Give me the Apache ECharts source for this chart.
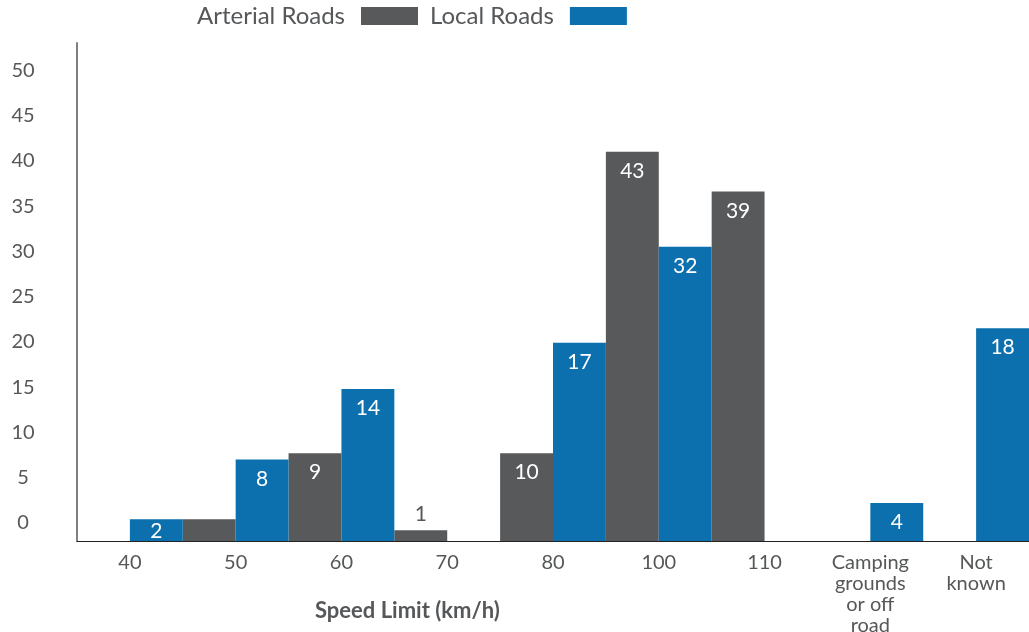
<!DOCTYPE html>
<html>
<head>
    <meta charset="utf-8" />
    <title>Speed Limit</title>
    <script src="https://cdn.jsdelivr.net/npm/echarts@6/dist/echarts.min.js"></script>
    <style>
        html, body { margin: 0; padding: 0; background: #fff; }
        #chart { width: 1029px; height: 632px; }
    </style>
</head>
<body>
    <div id="chart"></div>
    <script type="text/javascript">
        // categories on the x axis
        var speedLimits = ['40', '50', '60', '70', '80', '100', '110', 'Camping\ngrounds\nor off\nroad', 'Not\nknown'];
        // bar heights as drawn in the picture
        var arterialHeights = [0, 2.4, 9.7, 1.2, 9.7, 43, 38.6, 0, 0];
        var localHeights = [2.4, 9, 16.8, 0, 21.9, 32.5, 0, 4.2, 23.5];
        // numbers printed on the bars
        var arterialLabels = [null, null, '9', '1', '10', '43', '39', null, null];
        var localLabels = ['2', '8', '14', null, '17', '32', null, '4', '18'];
        var yTicks = [0, 5, 10, 15, 20, 25, 30, 35, 40, 45, 50];

        var textGrey = '#555759';
        var fontName = 'Lato';

        function buildData(heights, labels) {
            return heights.map(function (h, i) {
                var item = { value: h, labelText: labels[i] };
                if (h > 0 && h < 2) {
                    // too thin for an inside label
                    item.label = { position: 'top', distance: 5, color: textGrey };
                } else if (h < 3) {
                    item.label = { distance: 1 };
                }
                return item;
            });
        }

        var chart = echarts.init(document.getElementById('chart'));
        chart.setOption({
            animation: false,
            textStyle: { fontFamily: fontName },
            title: {
                text: 'Speed Limit (km/h)',
                left: 315,
                top: 600,
                padding: 0,
                textStyle: { fontFamily: fontName, fontSize: 22, fontWeight: 'bold', color: textGrey }
            },
            legend: {
                left: 197,
                top: 4,
                padding: 0,
                align: 'right',
                itemWidth: 57,
                itemHeight: 18,
                itemGap: 12,
                icon: 'rect',
                textStyle: { fontFamily: fontName, fontSize: 24, color: textGrey, padding: [0, 11, 0, 0] },
                data: ['Arterial Roads', 'Local Roads']
            },
            grid: { left: 77, right: 0, top: 43, bottom: 91, containLabel: false, outerBoundsMode: 'none' },
            xAxis: {
                type: 'category',
                data: speedLimits,
                axisLine: { lineStyle: { color: '#222', width: 1 } },
                axisTick: { show: false },
                axisLabel: {
                    color: textGrey,
                    fontSize: 20,
                    lineHeight: 21,
                    margin: 11,
                    interval: 0,
                    verticalAlign: 'top'
                }
            },
            yAxis: {
                type: 'value',
                min: 0,
                max: 55,
                interval: 5,
                axisLine: { show: true, lineStyle: { color: '#808080', width: 2 } },
                axisTick: { show: false },
                splitLine: { show: false },
                axisLabel: {
                    color: textGrey,
                    fontSize: 20,
                    // tick labels sit above their ticks in the source chart
                    lineHeight: 36,
                    verticalAlign: 'bottom',
                    align: 'center',
                    margin: 54,
                    showMinLabel: true,
                    formatter: function (v) {
                        return yTicks.indexOf(v) >= 0 ? String(v) : '';
                    }
                }
            },
            series: [{
                name: 'Arterial Roads',
                type: 'bar',
                barGap: '0%',
                barCategoryGap: '0%',
                itemStyle: { color: '#58595b' },
                label: {
                    show: true,
                    position: 'insideTop',
                    distance: 9,
                    color: '#fff',
                    fontSize: 21,
                    formatter: function (p) { return p.data.labelText || ''; }
                },
                data: buildData(arterialHeights, arterialLabels)
            }, {
                name: 'Local Roads',
                type: 'bar',
                barGap: '0%',
                barCategoryGap: '0%',
                itemStyle: { color: '#0b70ad' },
                label: {
                    show: true,
                    position: 'insideTop',
                    distance: 9,
                    color: '#fff',
                    fontSize: 21,
                    formatter: function (p) { return p.data.labelText || ''; }
                },
                data: buildData(localHeights, localLabels)
            }]
        });
    </script>
</body>
</html>
